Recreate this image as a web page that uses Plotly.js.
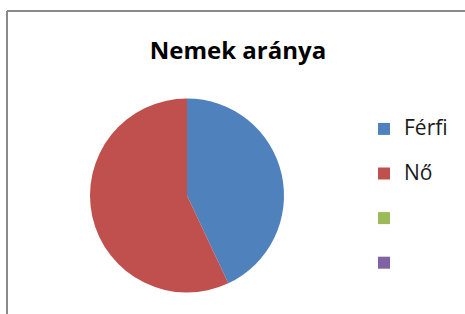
<!DOCTYPE html>
<html>
<head>
<meta charset="utf-8">
<script src="https://cdn.plot.ly/plotly-3.0.1.min.js"></script>
<style>
html,body{margin:0;padding:0;background:#fff;}
#chart{width:465px;height:314px;}
</style>
</head>
<body>
<div id="chart"></div>
<script>
const categories = ["Férfi", "Nő", "", " "];
const values = [43, 57, 0, 0];
const colors = ["#4F81BD", "#C0504D", "#9BBB59", "#8064A2"];
const titleText = "Nemek aránya";

const W = 465, H = 314;
const legendLabels = categories.map(c => "<span style='font-size:21px'>" + c + "</span><br> ");

const trace = {
  type: "pie",
  labels: legendLabels,
  values: values,
  sort: false,
  direction: "clockwise",
  rotation: 0,
  textinfo: "none",
  hoverinfo: "label+percent",
  marker: {colors: colors, line: {width: 0}},
  domain: {x: [90 / W, 284 / W], y: [1 - 293 / H, 1 - 98 / H]},
  showlegend: true
};

const layout = {
  width: W, height: H,
  margin: {l: 0, r: 0, t: 0, b: 0},
  paper_bgcolor: "#ffffff",
  title: {
    text: "<b>" + titleText + "</b>",
    x: 238 / W, xanchor: "center",
    y: 1 - 51 / H, yanchor: "middle",
    font: {family: "Open Sans, sans-serif", size: 24, color: "#000000"}
  },
  legend: {
    x: 364 / W, xanchor: "left",
    y: 1 - 112 / H, yanchor: "top",
    valign: "top",
    font: {family: "Open Sans, sans-serif", size: 16, color: "#1a1a1a"},
    bgcolor: "rgba(0,0,0,0)",
    traceorder: "normal"
  },
  shapes: [
    {type: "line", xref: "paper", yref: "paper", x0: 7 / W, x1: 7 / W, y0: 0, y1: 1 - 11 / H,
     line: {color: "#8a8a8a", width: 2}},
    {type: "line", xref: "paper", yref: "paper", x0: 7 / W, x1: 1, y0: 1 - 11 / H, y1: 1 - 11 / H,
     line: {color: "#8a8a8a", width: 2}}
  ]
};

Plotly.newPlot("chart", [trace], layout, {displayModeBar: false, staticPlot: true});
</script>
</body>
</html>
